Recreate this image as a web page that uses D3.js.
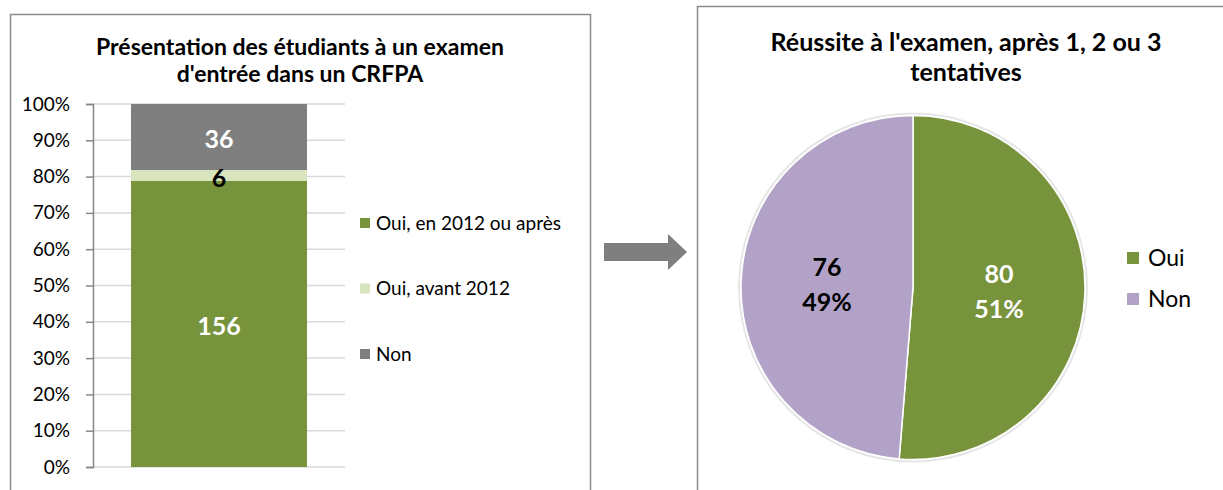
<!DOCTYPE html>
<html>
<head>
<meta charset="utf-8">
<script src="https://cdn.jsdelivr.net/npm/d3@7"></script>
<style>
  body { margin: 0; background: #fff; }
  svg { display: block; font-family: Lato, "Open Sans", sans-serif; }
</style>
</head>
<body>
<svg id="chart" width="1223" height="490"></svg>
<script>
// left chart: stacked 100% bar
const barTitle = ["Présentation des étudiants à un examen", "d'entrée dans un CRFPA"];
const barSeries = ["Oui, en 2012 ou après", "Oui, avant 2012", "Non"];
const barValues = [156, 6, 36];
const barColors = ["#77933c", "#d7e4bd", "#7f7f7f"];
const barLabelColors = ["#fff", "#000", "#fff"];
const yTicks = [0, 0.1, 0.2, 0.3, 0.4, 0.5, 0.6, 0.7, 0.8, 0.9, 1];

// right chart: pie
const pieTitle = ["Réussite à l'examen, après 1, 2 ou 3", "tentatives"];
const pieCategories = ["Oui", "Non"];
const pieValues = [80, 76];
const pieColors = ["#77933c", "#b3a2c7"];
const pieLabelColors = ["#fff", "#000"];

const svg = d3.select("#chart");

// panel borders
svg.append("rect")
    .attr("x", 10.5).attr("y", 14.5)
    .attr("width", 580).attr("height", 500)
    .attr("fill", "#fff")
    .attr("stroke", "#8c8c8c")
    .attr("stroke-width", 1.5);

svg.append("rect")
    .attr("x", 697.5).attr("y", 6.5)
    .attr("width", 560).attr("height", 500)
    .attr("fill", "#fff")
    .attr("stroke", "#8c8c8c")
    .attr("stroke-width", 1.5);

// ---- left chart ----
const left = svg.append("g");

left.selectAll(".title")
    .data(barTitle)
    .enter()
    .append("text")
    .attr("x", 300)
    .attr("y", (d, i) => 55 + i * 27)
    .attr("text-anchor", "middle")
    .attr("font-size", "23px")
    .attr("font-weight", "bold")
    .text(d => d);

const y = d3.scaleLinear().domain([0, 1]).range([467, 104]);

// gridlines
left.selectAll(".grid")
    .data(yTicks)
    .enter()
    .append("line")
    .attr("x1", 93).attr("x2", 345)
    .attr("y1", d => y(d)).attr("y2", d => y(d))
    .attr("stroke", "#d9d9d9")
    .attr("stroke-width", 1.5);

// axis
const yAxis = d3.axisLeft(y)
    .tickValues(yTicks)
    .tickFormat(d3.format(".0%"))
    .tickSize(7)
    .tickPadding(16);

const axisG = left.append("g")
    .attr("transform", "translate(93,0)")
    .call(yAxis);
axisG.select(".domain").attr("stroke", "#868686").attr("stroke-width", 1.5);
axisG.selectAll(".tick line").attr("stroke", "#868686").attr("stroke-width", 1.5);
axisG.selectAll(".tick text")
    .attr("font-size", "19px")
    .attr("font-family", "Lato, sans-serif")
    .attr("fill", "#000");

// stacked bar
const total = d3.sum(barValues);
let cum = 0;
const stacked = barValues.map((v, i) => {
    const d = { value: v, y0: cum / total, y1: (cum + v) / total, i: i };
    cum += v;
    return d;
});

const barX = 131, barW = 176;

left.selectAll(".seg")
    .data(stacked)
    .enter()
    .append("rect")
    .attr("x", barX)
    .attr("width", barW)
    .attr("y", d => y(d.y1))
    .attr("height", d => y(d.y0) - y(d.y1))
    .attr("fill", d => barColors[d.i]);

left.selectAll(".segLabel")
    .data(stacked)
    .enter()
    .append("text")
    .attr("x", barX + barW / 2)
    .attr("y", d => y((d.y0 + d.y1) / 2))
    .attr("dy", "0.45em")
    .attr("text-anchor", "middle")
    .attr("font-size", "25px")
    .attr("font-weight", "bold")
    .attr("fill", d => barLabelColors[d.i])
    .text(d => d.value);

// legend
const legend = left.selectAll(".legend")
    .data(barSeries)
    .enter()
    .append("g")
    .attr("transform", (d, i) => "translate(360," + (223 + i * 65.5) + ")");

legend.append("rect")
    .attr("x", 0).attr("y", -5)
    .attr("width", 10).attr("height", 10)
    .attr("fill", (d, i) => barColors[i]);

legend.append("text")
    .attr("x", 16)
    .attr("dy", "0.35em")
    .attr("font-size", "19px")
    .text(d => d);

// ---- arrow ----
svg.append("path")
    .attr("d", "M604,243 L668,243 L668,234 L687,252 L668,270 L668,261 L604,261 Z")
    .attr("fill", "#7f7f7f");

// ---- right chart ----
const right = svg.append("g");

right.selectAll(".title")
    .data(pieTitle)
    .enter()
    .append("text")
    .attr("x", 966)
    .attr("y", (d, i) => 51 + i * 30)
    .attr("text-anchor", "middle")
    .attr("font-size", "25px")
    .attr("font-weight", "bold")
    .text(d => d);

const cx = 913, cy = 287.5, r = 172;
const pie = d3.pie().sort(null).value(d => d)(pieValues);
const arc = d3.arc().innerRadius(0).outerRadius(r);
const labelArc = d3.arc().innerRadius(r / 2).outerRadius(r / 2);
const pieTotal = d3.sum(pieValues);

const pieG = right.append("g").attr("transform", "translate(" + cx + "," + cy + ")");

pieG.append("circle")
    .attr("r", r + 2)
    .attr("fill", "none")
    .attr("stroke", "#e6e6e6")
    .attr("stroke-width", 2);

pieG.selectAll(".slice")
    .data(pie)
    .enter()
    .append("path")
    .attr("d", arc)
    .attr("fill", (d, i) => pieColors[i])
    .attr("stroke", "#fff")
    .attr("stroke-width", 1.5);

const sliceLabels = pieG.selectAll(".sliceLabel")
    .data(pie)
    .enter()
    .append("text")
    .attr("transform", d => "translate(" + labelArc.centroid(d) + ")")
    .attr("text-anchor", "middle")
    .attr("font-size", "25px")
    .attr("font-weight", "bold")
    .attr("fill", (d, i) => pieLabelColors[i]);

sliceLabels.append("tspan")
    .attr("x", 0).attr("y", -8)
    .text(d => d.value);
sliceLabels.append("tspan")
    .attr("x", 0).attr("y", 27)
    .text(d => Math.round(d.value / pieTotal * 100) + "%");

const pieLegend = right.selectAll(".pieLegend")
    .data(pieCategories)
    .enter()
    .append("g")
    .attr("transform", (d, i) => "translate(1127," + (258 + i * 41) + ")");

pieLegend.append("rect")
    .attr("x", 0).attr("y", -6)
    .attr("width", 12).attr("height", 12)
    .attr("fill", (d, i) => pieColors[i]);

pieLegend.append("text")
    .attr("x", 21)
    .attr("dy", "0.35em")
    .attr("font-size", "23px")
    .text(d => d);
</script>
</body>
</html>
